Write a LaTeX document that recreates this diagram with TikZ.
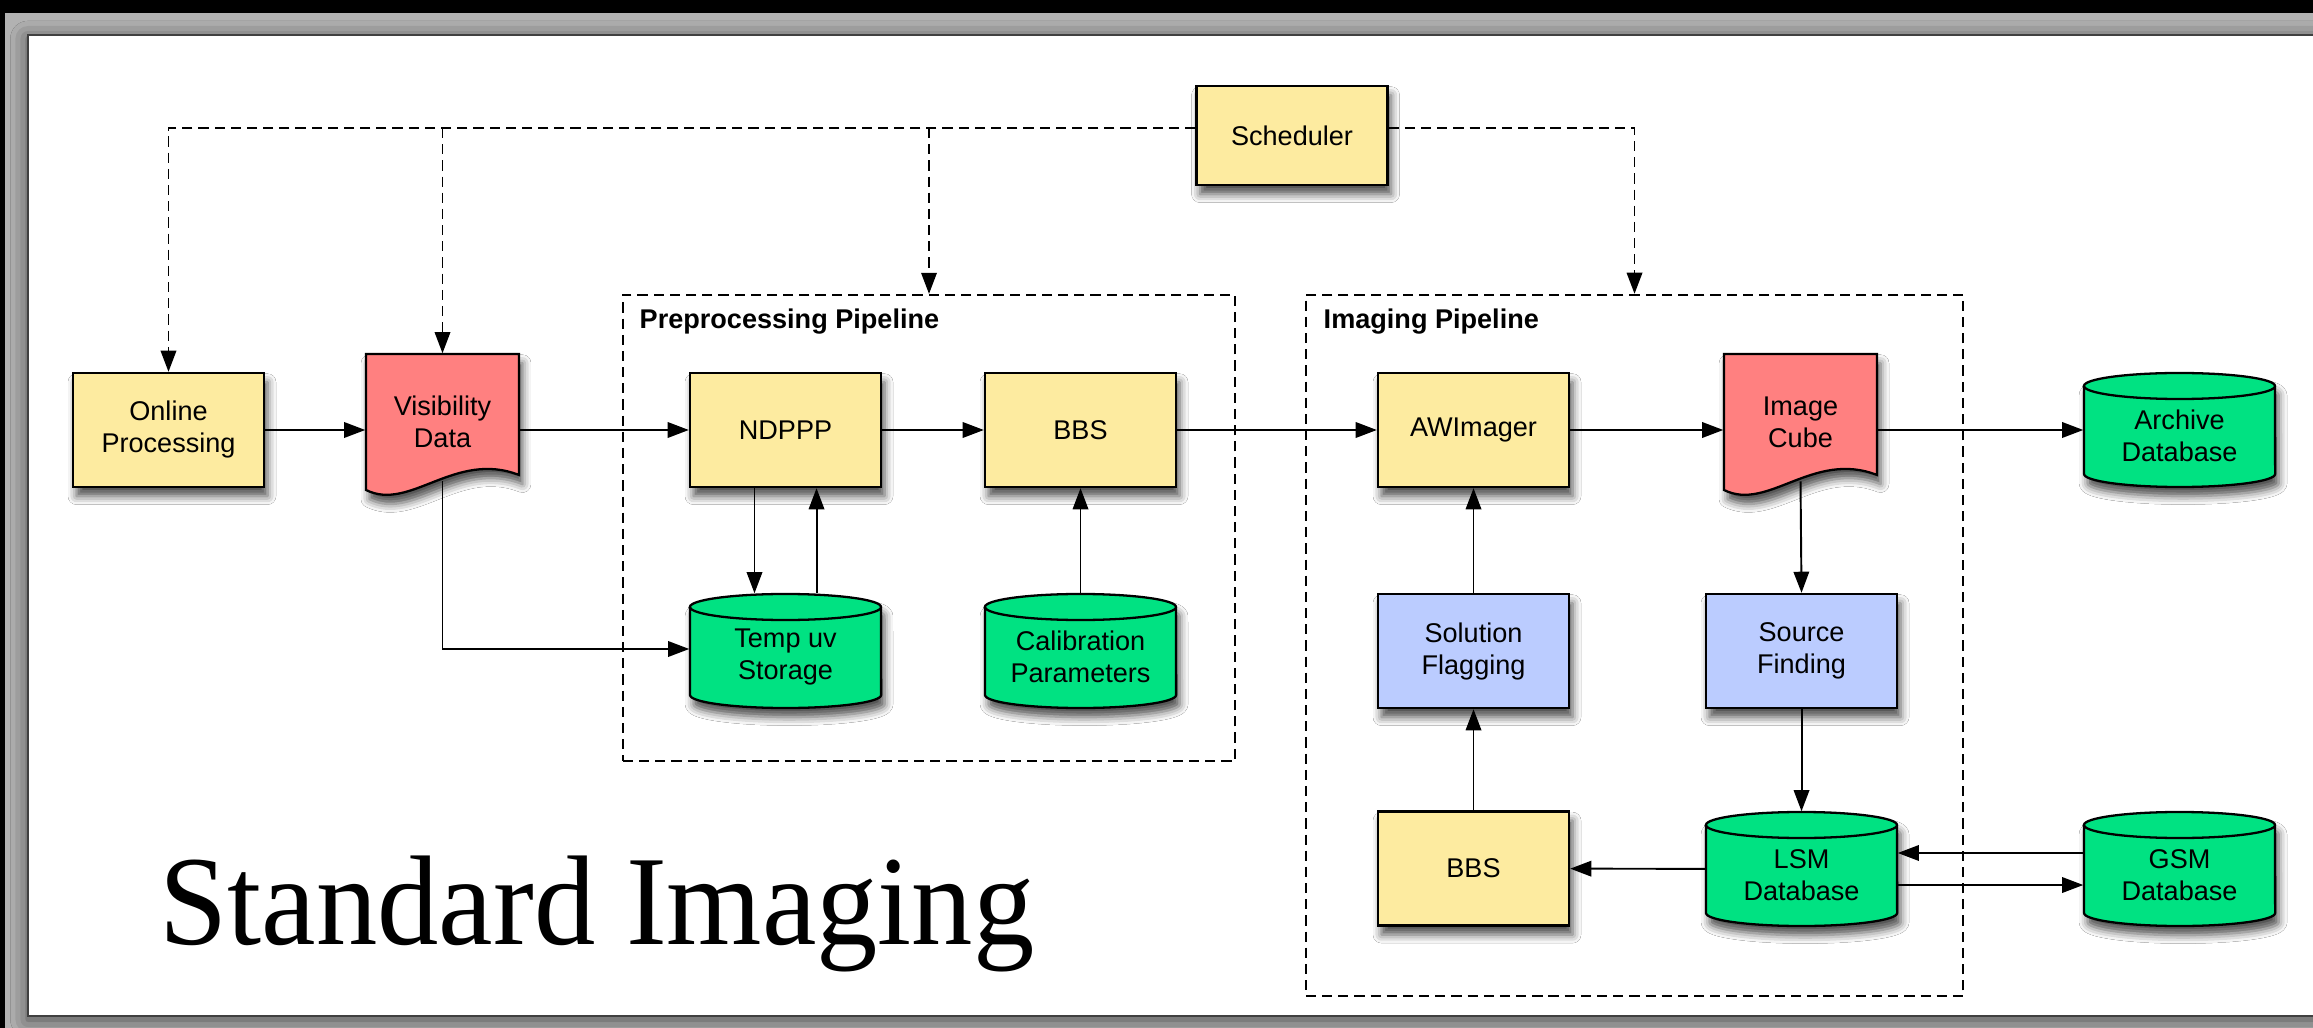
\documentclass[tikz,border=0pt]{standalone}
\usepackage{fontspec}
\setmainfont{Liberation Sans}
\newfontfamily\serifface{Liberation Serif}
\usetikzlibrary{shadows.blur,arrows.meta}

\definecolor{procyellow}{RGB}{253,235,160}
\definecolor{datared}{RGB}{255,128,128}
\definecolor{storegreen}{RGB}{0,226,130}
\definecolor{toolblue}{RGB}{187,204,255}

\newcommand\nodetext{\fontsize{7.7pt}{9.1pt}\selectfont}

% a storage drum centred at (#2,#3), 191 x 114 units, named #1, labelled #4
\newcommand\datadrum[4]{%
  \begin{scope}[shift={(#2,#3)}]
    \filldraw[drumbody] (-95.5,44) -- (-95.5,-44)
      arc[start angle=180,end angle=360,x radius=0.955cm,y radius=0.13cm]
      -- (95.5,44)
      arc[start angle=0,end angle=180,x radius=0.955cm,y radius=0.13cm] -- cycle;
    \draw[line width=0.65pt] (-95.5,44)
      arc[start angle=180,end angle=360,x radius=0.955cm,y radius=0.13cm];
  \end{scope}
  \node[rectangle, inner sep=0pt, minimum width=1.91cm, minimum height=1.14cm] (#1) at (#2,#3) {};
  \node[textonly] (#1-text) at (#2,#3-6) {#4};}

\begin{document}
\begin{tikzpicture}[x=0.01cm,y=0.01cm,
  softshadow/.style={blur shadow={shadow xshift=1.0pt, shadow yshift=-2.6pt,
      shadow blur radius=2.4pt, shadow opacity=70}},
  boxbase/.style={rectangle, draw=black, line width=0.65pt, minimum width=1.91cm,
      minimum height=1.14cm, align=center, font=\nodetext, inner sep=0pt, softshadow},
  proc/.style={boxbase, fill=procyellow},
  tool/.style={boxbase, fill=toolblue},
  docbody/.style={draw=black, line width=0.65pt, fill=datared, softshadow},
  drumbody/.style={draw=black, line width=0.65pt, fill=storegreen, softshadow},
  textonly/.style={rectangle, inner sep=0pt, align=center, font=\nodetext},
  pipebox/.style={rectangle, draw=black, line width=0.55pt, dash pattern=on 2.9pt off 1.7pt,
      inner sep=0pt},
  piptitle/.style={anchor=west, inner sep=0pt, font=\nodetext\bfseries},
  arr/.style={line width=0.55pt, -{Triangle[length=6pt,width=4.4pt,fill=black]}},
  dasharr/.style={arr, dash pattern=on 2.9pt off 1.7pt}
]
\useasboundingbox (0,0) rectangle (2313,-1028);

% window frame
\fill[black] (0,0) rectangle (2313,-1028);
\fill[black!30] (5,-13) rectangle (2313,-1028);
\fill[white, draw=black!75, line width=0.6pt,
  blur shadow={shadow xshift=0pt, shadow yshift=-1pt, shadow blur radius=5pt, shadow opacity=60}]
  (28,-35) rectangle (2345,-1016);

% pipeline groups
\node[pipebox, minimum width=6.12cm, minimum height=4.66cm] (prep) at (929,-528) {};
\node[pipebox, minimum width=6.57cm, minimum height=7.01cm] (img) at (1634.5,-645.5) {};
\node[piptitle] (preptitle) at (639,-322) {Preprocessing Pipeline};
\node[piptitle] (imgtitle) at (1323,-322) {Imaging Pipeline};

% process boxes
\node[proc, minimum height=0.99cm] (sched) at (1292,-135.5) {Scheduler};
\node[proc] (online) at (168.5,-430) {Online\\Processing};
\node[proc] (ndppp) at (785.5,-430) {NDPPP};
\node[proc] (bbsa) at (1080.5,-430) {BBS};
\node[proc] (awim) at (1473.5,-430) {AWImager};
\node[proc] (bbsb) at (1473.5,-868.5) {BBS};
\node[tool] (solflag) at (1473.5,-651) {Solution\\Flagging};
\node[tool] (srcfind) at (1801.5,-651) {Source\\Finding};

% data products
\filldraw[docbody] (366,-354) -- (519,-354) -- (519,-475)
  .. controls (455,-450) and (410,-512) .. (366,-490) coordinate[pos=0.5] (viswave) -- cycle;
\node[textonly, minimum width=1.53cm, minimum height=1.36cm] (vis) at (442.5,-422) {Visibility\\Data};
\filldraw[docbody] (1724,-354) -- (1877,-354) -- (1877,-475)
  .. controls (1813,-450) and (1768,-512) .. (1724,-490) coordinate[pos=0.5] (cubewave) -- cycle;
\node[textonly, minimum width=1.53cm, minimum height=1.36cm] (cube) at (1800.5,-422) {Image\\Cube};

% storage
\datadrum{temp}{785.5}{-651}{Temp uv\\Storage}
\datadrum{calib}{1080.5}{-651}{Calibration\\Parameters}
\datadrum{archive}{2179.5}{-430}{Archive\\Database}
\datadrum{lsm}{1801.5}{-869}{LSM\\Database}
\datadrum{gsm}{2179.5}{-869}{GSM\\Database}

% title
\node[anchor=base west, inner sep=0pt, font=\serifface\fontsize{36.3pt}{40pt}\selectfont]
  (title) at (159,-944) {\scalebox{0.96}[1]{Standard Imaging}};

% scheduler control lines
\coordinate (bus) at (0,-128);
\draw[dasharr] (sched.west |- bus) -| (online.north);
\draw[dasharr] (vis.north |- bus) -- (vis.north);
\draw[dasharr] (prep.north |- bus) -- (prep.north);
\draw[dasharr] (sched.east |- bus) -| (img.north);

% data flow
\draw[arr] (online.east) -- (online.east -| vis.west);
\draw[arr] (vis.east |- ndppp) -- (ndppp.west);
\draw[arr] (ndppp) -- (bbsa);
\draw[arr] (bbsa) -- (awim);
\draw[arr] (awim.east) -- (awim.east -| cube.west);
\draw[arr] (cube.east |- archive) -- (archive.west);
\draw[arr] ([xshift=-0.31cm]ndppp.south) -- ([xshift=-0.31cm]temp.north);
\draw[arr] ([xshift=0.31cm]temp.north) -- ([xshift=0.31cm]ndppp.south);
\draw[arr] (vis.south |- viswave) |- ([yshift=0.02cm]temp.west);
\draw[arr] (calib) -- (bbsa);
\draw[arr] (solflag) -- (awim);
\draw[arr] (bbsb) -- (solflag);
\draw[arr] (cube.south |- cubewave) -- (srcfind.north);
\draw[arr] (srcfind) -- (lsm);
\draw[arr] (lsm) -- (bbsb);
\draw[arr] ([yshift=0.16cm]gsm.west) -- ([yshift=0.16cm]lsm.east);
\draw[arr] ([yshift=-0.16cm]lsm.east) -- ([yshift=-0.16cm]gsm.west);
\end{tikzpicture}
\end{document}
